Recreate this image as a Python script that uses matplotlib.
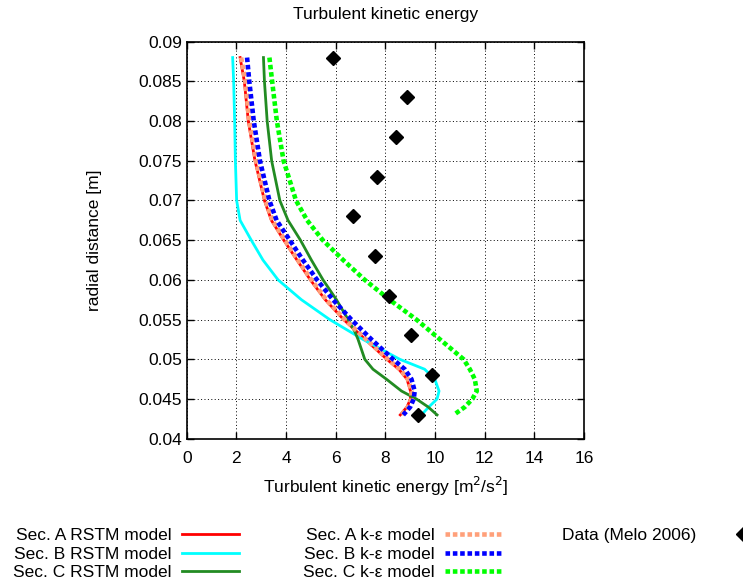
#!/usr/bin/env python3

# Turbulent kinetic energy profiles: RSTM vs k-epsilon vs data

import numpy as np
import matplotlib.pyplot as plt

plt.rcParams['font.family'] = ['Liberation Sans', 'DejaVu Sans']
plt.rcParams['font.size'] = 12.5

# radial positions [m] where the curves were read
r = [0.088, 0.085, 0.080, 0.075, 0.070, 0.0675, 0.065, 0.0625, 0.060,
     0.0575, 0.055, 0.0525, 0.050, 0.04875, 0.0475, 0.046, 0.045, 0.044,
     0.043]

k_A_rstm = [2.15, 2.32, 2.48, 2.75, 3.13, 3.41, 3.91, 4.44, 4.98,
            5.58, 6.32, 7.19, 8.06, 8.54, 8.87, 9.01, 9.01, 8.87, 8.60]
k_B_rstm = [1.85, 1.89, 1.93, 1.96, 2.01, 2.15, 2.60, 3.07, 3.68,
            4.62, 5.76, 7.10, 8.58, 9.58, 9.99, 10.16, 10.08, 9.75, 9.45]
k_A_ke = [2.19, 2.36, 2.52, 2.79, 3.17, 3.45, 3.95, 4.48, 5.02,
          5.62, 6.36, 7.23, 8.10, 8.58, 8.91, 9.05, 9.05, 8.91, 8.64]
k_B_ke = [2.43, 2.52, 2.70, 2.95, 3.33, 3.62, 4.15, 4.68, 5.25,
          5.89, 6.63, 7.44, 8.31, 8.78, 9.05, 9.18, 9.14, 9.00, 8.72]
k_C_ke = [3.33, 3.44, 3.63, 3.90, 4.40, 4.85, 5.48, 6.30, 7.17,
          8.17, 9.25, 10.20, 11.15, 11.40, 11.60, 11.68, 11.50, 11.20, 10.75]

# Sec. C RSTM has a kink, read on its own radial positions
r_C = [0.088, 0.085, 0.080, 0.075, 0.070, 0.0675, 0.065, 0.0625, 0.060,
       0.0575, 0.055, 0.0535, 0.0525, 0.050, 0.04875, 0.0475, 0.046,
       0.045, 0.044, 0.043]
k_C_rstm = [3.09, 3.13, 3.24, 3.42, 3.75, 4.08, 4.58, 5.02, 5.49,
            6.03, 6.50, 6.77, 6.90, 7.17, 7.50, 8.04, 8.65,
            9.25, 9.72, 10.08]

# Melo 2006 measurements
r_data = [0.088, 0.083, 0.078, 0.073, 0.068, 0.063, 0.058, 0.053, 0.048, 0.043]
k_data = [5.91, 8.86, 8.43, 7.65, 6.68, 7.60, 8.16, 9.02, 9.88, 9.32]

fig = plt.figure(figsize=(7.43, 5.83), dpi=100)
ax = fig.add_axes([0.2513, 0.2475, 0.5348, 0.681])

dash = (0, (1, 0.6))
l1, = ax.plot(k_A_rstm, r, '-', color='#ff0000', lw=2)
l2, = ax.plot(k_B_rstm, r, '-', color='#00ffff', lw=2)
l3, = ax.plot(k_C_rstm, r_C, '-', color='#228b22', lw=2)
l4, = ax.plot(k_A_ke, r, color='#ffa07a', lw=3.3, linestyle=dash)
l5, = ax.plot(k_B_ke, r, color='#0000ff', lw=3.3, linestyle=dash)
l6, = ax.plot(k_C_ke, r, color='#00ff00', lw=3.3, linestyle=dash)
l7, = ax.plot(k_data, r_data, 'D', color='black', ms=7.5, ls='none')

ax.set_xlim(0, 16)
ax.set_ylim(0.04, 0.09)
ax.set_xticks(np.arange(0, 17, 2))
ax.set_yticks(np.arange(0.04, 0.0901, 0.005))
ax.set_yticklabels(['0.04', '0.045', '0.05', '0.055', '0.06', '0.065',
                    '0.07', '0.075', '0.08', '0.085', '0.09'])
ax.tick_params(direction='in', top=True, right=True, length=5, width=1)
ax.tick_params(axis='x', pad=9)
ax.grid(True, color='black', lw=0.7, linestyle=(0, (1, 2.5)))
for s in ax.spines.values():
    s.set_linewidth(1.2)

ax.set_title('Turbulent kinetic energy', fontsize=12.5, pad=16)
ax.set_xlabel('Turbulent kinetic energy [m$^2$/s$^2$]', labelpad=6)
ax.set_ylabel('radial distance [m]', labelpad=26)

lkw = dict(frameon=False, markerfirst=False, handlelength=3.3,
           handletextpad=0.6, borderpad=0, borderaxespad=0,
           labelspacing=0.2, fontsize=12.5, loc='upper left')
top = 1 - 528 / 583
fig.legend([l1, l2, l3], ['Sec. A RSTM model', 'Sec. B RSTM model',
                          'Sec. C RSTM model'],
           bbox_to_anchor=(13 / 743, top), **lkw)
fig.legend([l4, l5, l6], ['Sec. A k-ε model', 'Sec. B k-ε model',
                          'Sec. C k-ε model'],
           bbox_to_anchor=(303 / 743, top), **lkw)
fig.legend([l7], ['Data (Melo 2006)'], handlelength=1.0, handletextpad=2.2,
           bbox_to_anchor=(562 / 743, top),
           **{k: v for k, v in lkw.items() if k not in ('handlelength', 'handletextpad')})

fig.savefig('out.png', dpi=100)
